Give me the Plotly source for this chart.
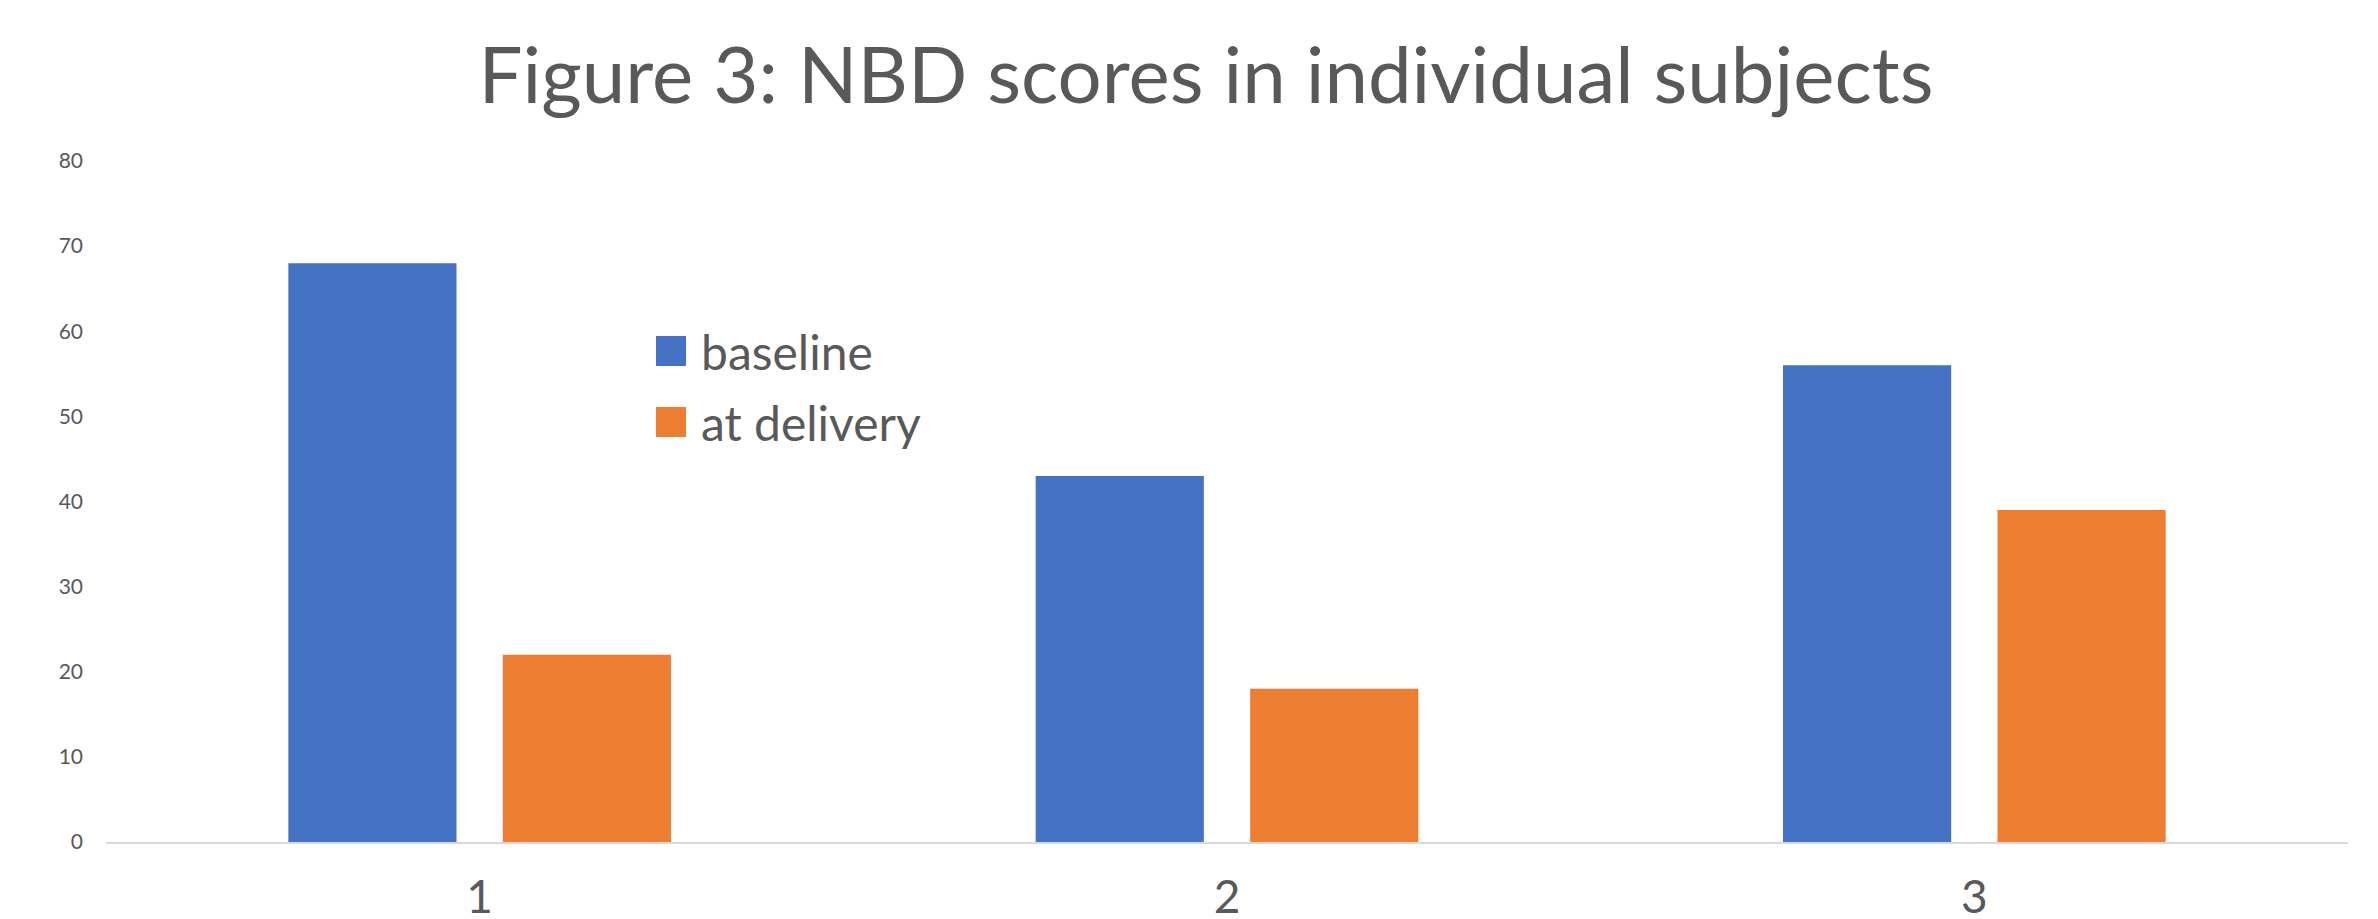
import plotly.graph_objects as go

categories = ["1", "2", "3"]
baseline = [68, 43, 56]
at_delivery = [22, 18, 39]
series_names = ["baseline", "at delivery"]
colors = ["#4472C4", "#ED7D31"]
y_ticks = [0, 10, 20, 30, 40, 50, 60, 70, 80]

FONT = "Lato"
TXT = "#595959"
BAR_W = 0.225
offsets = [-0.256, 0.031]

fig = go.Figure()
for name, vals, col, off in zip(series_names, [baseline, at_delivery], colors, offsets):
    fig.add_trace(go.Bar(x=categories, y=vals, name=name,
                         width=BAR_W, offset=off,
                         marker=dict(color=col, line=dict(width=0)),
                         showlegend=False))

W, H = 2378, 919
ml, mr, mt, mb = 106, 30, 161, 77
pw, ph = W - ml - mr, H - mt - mb

def px_to_paper(x, y):
    return (x - ml) / pw, (H - mb - y) / ph

# manual legend (large swatches like the reference)
legend_rows = [(351, 0), (422, 1)]
for cy, i in legend_rows:
    x0, y0 = px_to_paper(656, cy - 15)
    x1, y1 = px_to_paper(686, cy + 15)
    fig.add_shape(type="rect", xref="paper", yref="paper",
                  x0=x0, x1=x1, y0=y1, y1=y0,
                  fillcolor=colors[i], line=dict(width=0))
    tx, ty = px_to_paper(699, cy)
    fig.add_annotation(xref="paper", yref="paper", x=tx, y=ty,
                       xanchor="left", yanchor="middle", showarrow=False,
                       text=series_names[i],
                       font=dict(family=FONT, size=48, color=TXT))

fig.update_layout(
    width=W, height=H,
    margin=dict(l=ml, r=mr, t=mt, b=mb, autoexpand=False),
    paper_bgcolor="white", plot_bgcolor="white",
    barmode="overlay",
    title=dict(text="Figure 3: NBD scores in individual subjects",
               x=1206 / W, xanchor="center",
               y=1 - 76 / H, yanchor="middle", yref="container",
               font=dict(family=FONT, size=78, color=TXT)),
    font=dict(family=FONT, color=TXT),
)
fig.update_xaxes(showgrid=False, zeroline=False, showline=True,
                 linecolor="#D9D9D9", linewidth=2,
                 tickfont=dict(family=FONT, size=46, color=TXT),
                 ticks="", ticklabelstandoff=14)
fig.update_yaxes(range=[0, 80], tickvals=y_ticks, showgrid=False,
                 zeroline=False, showline=False,
                 tickfont=dict(family=FONT, size=21, color=TXT),
                 ticks="", ticklabelstandoff=22)

fig.write_html("out.html")
